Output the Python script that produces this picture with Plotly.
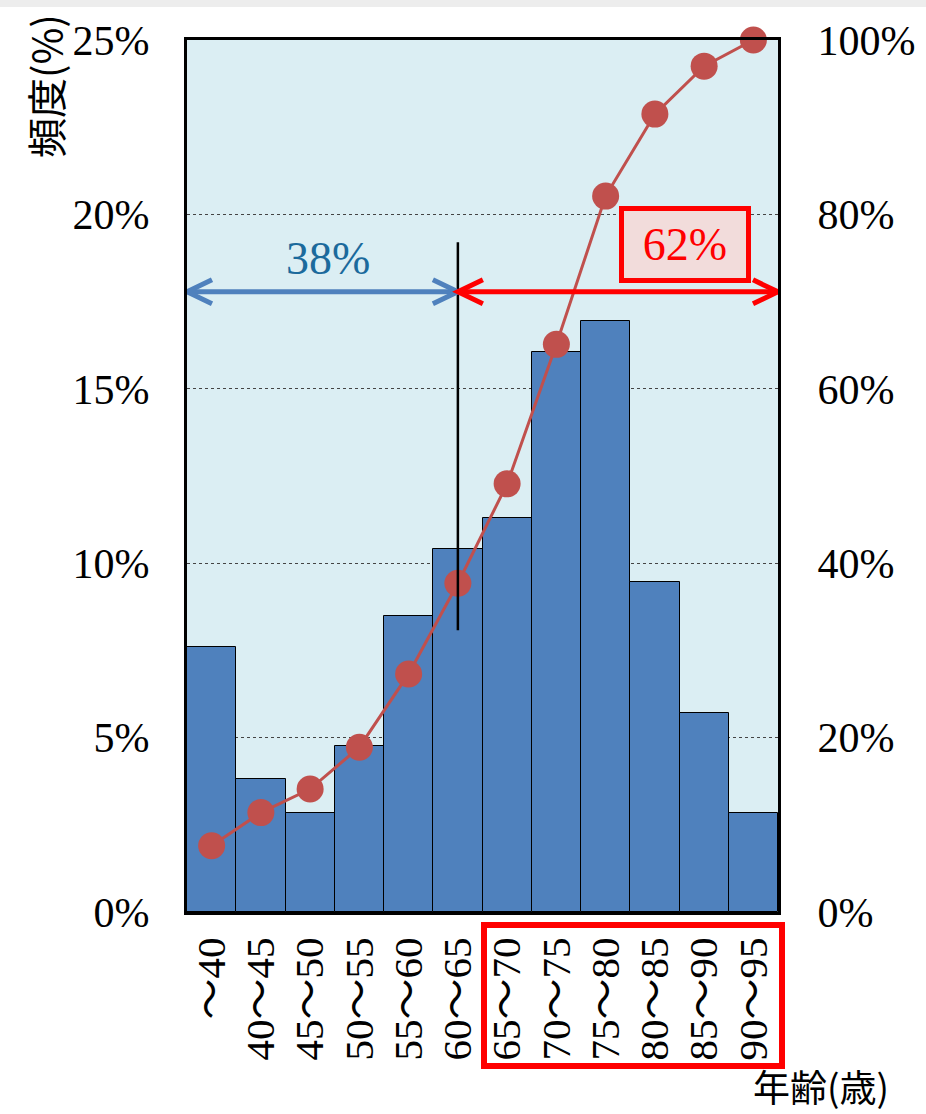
import plotly.graph_objects as go

# ---- data ----
categories = ["～40", "40～45", "45～50", "50～55", "55～60", "60～65",
              "65～70", "70～75", "75～80", "80～85", "85～90", "90～95"]
freq_pct = [7.6, 3.8, 2.85, 4.75, 8.5, 10.4, 11.3, 16.05, 16.95, 9.45, 5.7, 2.85]
cum_pct = [7.6, 11.4, 14.1, 18.9, 27.3, 37.7, 49.1, 65.1, 82.1, 91.5, 97.0, 100.0]
left_ticks = [0, 5, 10, 15, 20, 25]
right_ticks = [0, 20, 40, 60, 80, 100]
split_label_left = "38%"
split_label_right = "62%"
y_title = "頻度(%)"
x_title = "年齢(歳)"

SERIF = "Times New Roman, Liberation Serif, Noto Sans CJK JP, serif"
CJK = "Noto Sans CJK JP, sans-serif"

W, H = 926, 1114
ML, MR, MT, MB = 187, 148, 40, 202
PW = W - ML - MR
PH = H - MT - MB

def py(pix):  # page pixel y -> paper y
    return (H - MB - pix) / PH

def px(pix):  # page pixel x -> paper x
    return (pix - ML) / PW

fig = go.Figure()
fig.add_trace(go.Bar(
    x=categories, y=freq_pct, marker=dict(color="#4F81BD", line=dict(color="black", width=1)),
    yaxis="y", showlegend=False))
fig.add_trace(go.Scatter(
    x=categories, y=cum_pct, yaxis="y2", mode="lines+markers",
    line=dict(color="#C0504D", width=3), marker=dict(color="#C0504D", size=27),
    cliponaxis=False, showlegend=False))

arrow_y = 17.78
split_x = 5
shapes = []
# top grey strip
shapes.append(dict(type="rect", xref="paper", yref="paper", x0=px(0), x1=px(W),
                   y0=py(7), y1=py(0), fillcolor="#ededed", line=dict(width=0), layer="below"))
# vertical split line
shapes.append(dict(type="line", xref="x", yref="y", x0=split_x, x1=split_x, y0=8.08, y1=19.2,
                   line=dict(color="black", width=2.5)))
# blue arrow
shapes.append(dict(type="line", xref="x", yref="y", x0=-0.5, x1=split_x, y0=arrow_y, y1=arrow_y,
                   line=dict(color="#4F81BD", width=5)))
# red arrow
shapes.append(dict(type="line", xref="x", yref="y", x0=split_x, x1=11.5, y0=arrow_y, y1=arrow_y,
                   line=dict(color="#FF0000", width=5)))

def chevron(xa, direction, color):
    d = 25 * direction
    return dict(type="path", xref="x", yref="y", xsizemode="pixel", ysizemode="pixel",
                xanchor=xa, yanchor=arrow_y, path=f"M {d},12 L 0,0 L {d},-12",
                line=dict(color=color, width=5))

shapes.append(chevron(-0.5, 1, "#4F81BD"))
shapes.append(chevron(split_x, -1, "#4F81BD"))
shapes.append(chevron(split_x, 1, "#FF0000"))
shapes.append(chevron(11.5, -1, "#FF0000"))

# red box around the right x tick labels
shapes.append(dict(type="rect", xref="paper", yref="paper", x0=px(484), x1=px(782), y0=py(1066), y1=py(925),
                   line=dict(color="#FF0000", width=6)))

annotations = [
    dict(text=split_label_left, x=2.36, y=18.75, xref="x", yref="y", showarrow=False,
         font=dict(family=SERIF, size=46, color="#1B6A9C")),
    dict(text=split_label_right, x=9.62, y=19.15, xref="x", yref="y", showarrow=False,
         font=dict(family=SERIF, size=46, color="#FF0000"),
         bgcolor="#F2DCDB", bordercolor="#FF0000", borderwidth=5, borderpad=0, width=122, height=67),
    dict(text=y_title, x=px(45), y=py(86), xref="paper", yref="paper", xanchor="center", yanchor="middle",
         showarrow=False, textangle=-90, font=dict(family=CJK, size=40, color="black")),
    dict(text=x_title, x=px(821), y=py(1086), xref="paper", yref="paper", xanchor="center", yanchor="middle",
         showarrow=False, font=dict(family=CJK, size=37, color="black")),
]

fig.update_layout(
    width=W, height=H, autosize=False,
    margin=dict(l=ML, r=MR, t=MT, b=MB, pad=0, autoexpand=False),
    paper_bgcolor="white", plot_bgcolor="#DBEEF3",
    bargap=0, showlegend=False,
    xaxis=dict(type="category", range=[-0.5, 11.5], tickangle=-90, showline=True, mirror=True,
               tickmode="array", tickvals=categories, ticktext=categories,
               linecolor="black", linewidth=3, ticks="", ticklabelstandoff=6,
               tickfont=dict(family=SERIF, size=41, color="black"), showgrid=False),
    yaxis=dict(range=[0, 25], tickvals=left_ticks, ticktext=[f"{v}%" for v in left_ticks],
               showline=True, linecolor="black", linewidth=3, ticks="", ticklabelstandoff=26,
               showgrid=True, gridcolor="#444444", griddash="dot", gridwidth=1, zeroline=False,
               tickfont=dict(family=SERIF, size=42, color="black")),
    yaxis2=dict(range=[0, 100], tickvals=right_ticks, ticktext=[f"{v}%" for v in right_ticks],
                overlaying="y", side="right", showline=True, linecolor="black", linewidth=3,
                ticks="", ticklabelstandoff=28, showgrid=False, zeroline=False,
                tickfont=dict(family=SERIF, size=42, color="black")),
    shapes=shapes, annotations=annotations,
)

fig.write_html("out.html")
